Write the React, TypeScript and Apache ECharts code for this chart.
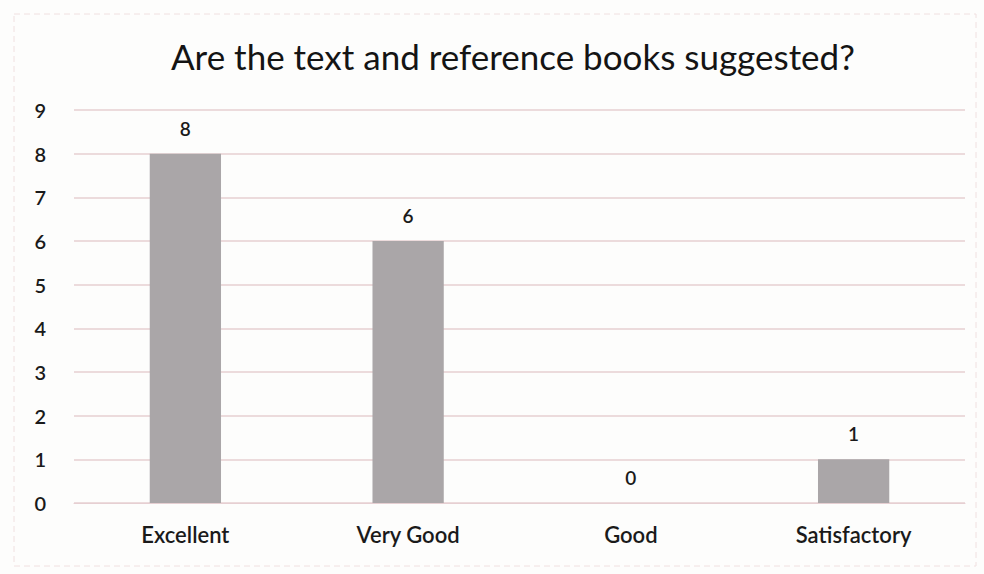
import React, { useEffect, useRef } from "react";
import * as echarts from "echarts";

const categories = ["Excellent", "Very Good", "Good", "Satisfactory"];
const values = [8, 6, 0, 1];
const yTicks = [0, 1, 2, 3, 4, 5, 6, 7, 8, 9];
const title = "Are the text and reference books suggested?";

export default function App() {
  const ref = useRef<HTMLDivElement>(null);
  useEffect(() => {
    if (!ref.current) return;
    const chart = echarts.init(ref.current, undefined, { renderer: "svg" });
    const font = "Lato, 'Open Sans', sans-serif";
    chart.setOption({
      animation: false,
      backgroundColor: "#fdfdfc",
      textStyle: { fontFamily: font },
      title: {
        text: title,
        left: 166,
        top: 33,
        textStyle: { fontFamily: font, fontSize: 35, fontWeight: "normal", color: "#141414" },
      },
      graphic: [
        {
          type: "rect",
          shape: { x: 14, y: 14, width: 962, height: 552 },
          style: { fill: "none", stroke: "#f0e0e0", lineWidth: 1, lineDash: [6, 4] },
          silent: true,
        },
      ],
      grid: { left: 74, right: 19, top: 110, bottom: 71, containLabel: false },
      xAxis: {
        type: "category",
        data: categories,
        axisLine: { show: true, lineStyle: { color: "#e6cfd2" } },
        axisTick: { show: false },
        axisLabel: { fontFamily: font, fontSize: 22, fontWeight: 600, color: "#1a1a1a", margin: 20 },
      },
      yAxis: {
        type: "value",
        min: yTicks[0],
        max: yTicks[yTicks.length - 1],
        interval: 1,
        axisLine: { show: false },
        axisTick: { show: false },
        splitLine: { show: true, lineStyle: { color: "#e6cfd2", width: 1.5 } },
        axisLabel: { fontFamily: font, fontSize: 20, fontWeight: 600, color: "#1a1a1a", margin: 28 },
      },
      series: [
        {
          type: "bar",
          data: values,
          barWidth: "32%",
          itemStyle: { color: "#aaa6a8" },
          label: {
            show: true,
            position: "top",
            distance: 16,
            fontFamily: font,
            fontSize: 19,
            fontWeight: 600,
            color: "#1a1a1a",
          },
        },
      ],
    });
    return () => chart.dispose();
  }, []);
  return (
    <div
      ref={ref}
      style={{ position: "fixed", left: 0, top: 0, width: 984, height: 574 }}
    />
  );
}
